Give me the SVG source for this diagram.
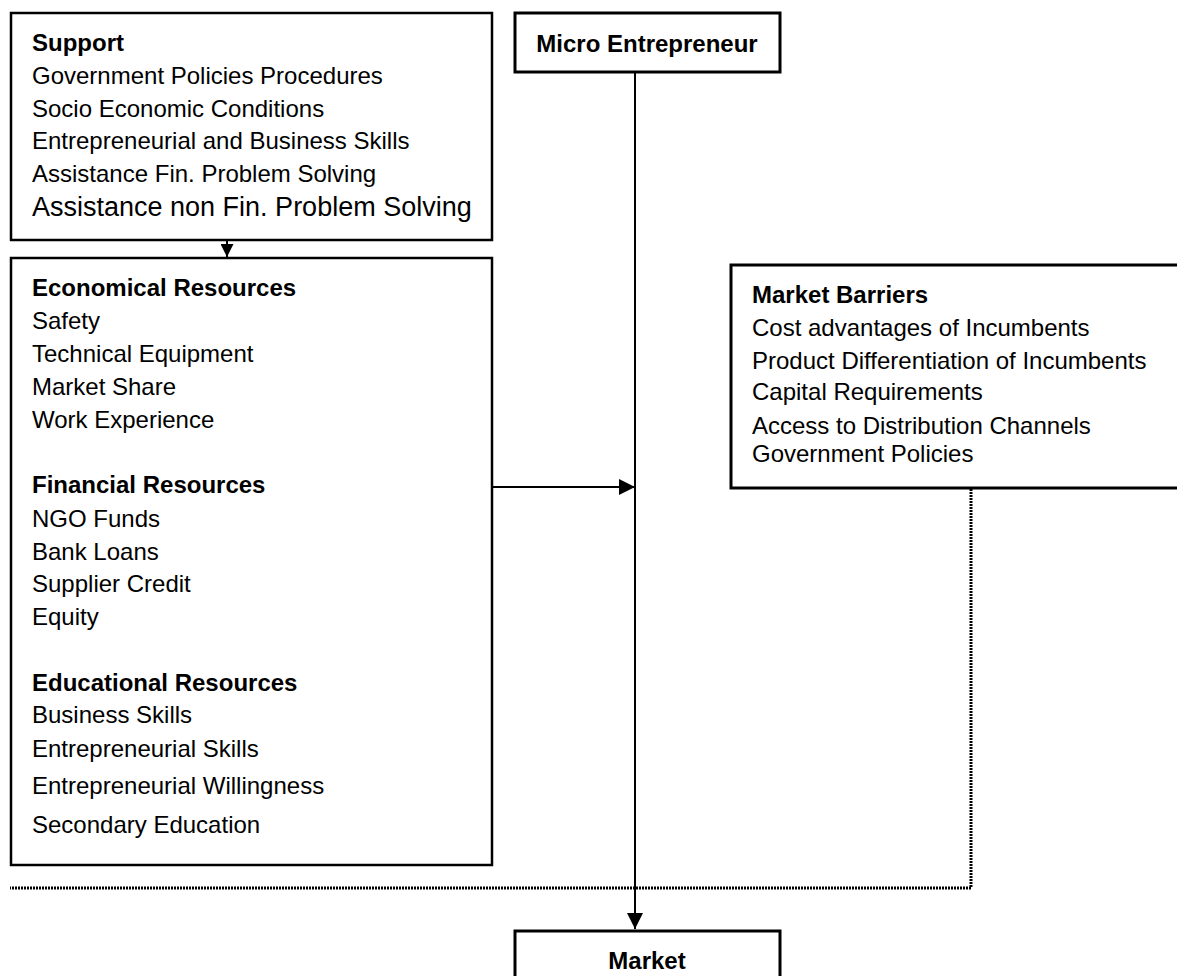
<svg xmlns="http://www.w3.org/2000/svg" width="1177" height="976" viewBox="0 0 1177 976">
<style>
  .box { fill: #fff; stroke: #000; stroke-width: 2.5; }
  .t { font-family: "Liberation Sans", Arial, sans-serif; font-size: 24px; fill: #000; }
  .b { font-weight: bold; }
  .con { fill: none; stroke: #000; stroke-width: 2; }
  .dot { fill: none; stroke: #000; stroke-width: 3; stroke-dasharray: 2 1; }
</style>
<defs>
  <marker id="ah" markerUnits="userSpaceOnUse" markerWidth="16" markerHeight="16" refX="16" refY="8" orient="auto">
    <path d="M0,0 L16,8 L0,16 z" fill="#000"/>
  </marker>
  <marker id="ahs" markerUnits="userSpaceOnUse" markerWidth="13" markerHeight="13" refX="13" refY="6.5" orient="auto">
    <path d="M0,0 L13,6.5 L0,13 z" fill="#000"/>
  </marker>
</defs>
<rect width="1177" height="976" fill="#fff"/>

<g id="connectors">
  <line class="con" x1="635" y1="72" x2="635" y2="929" marker-end="url(#ah)"/>
  <line class="con" x1="493" y1="487" x2="635" y2="487" marker-end="url(#ah)"/>
  <line class="con" x1="227" y1="241" x2="227" y2="257" marker-end="url(#ahs)"/>
  <polyline class="dot" points="971,483 971,888 10,888"/>
</g>

<g id="support">
  <rect class="box" x="11" y="13" width="481" height="227"/>
  <text class="t b" x="32" y="51">Support</text>
  <text class="t" x="32" y="84">Government Policies Procedures</text>
  <text class="t" x="32" y="117">Socio Economic Conditions</text>
  <text class="t" x="32" y="149">Entrepreneurial and Business Skills</text>
  <text class="t" x="32" y="182">Assistance Fin. Problem Solving</text>
  <text class="t" x="32" y="216" style="font-size:27px">Assistance non Fin. Problem Solving</text>
</g>

<g id="resources">
  <rect class="box" x="11" y="258" width="481" height="607"/>
  <text class="t b" x="32" y="296">Economical Resources</text>
  <text class="t" x="32" y="329">Safety</text>
  <text class="t" x="32" y="362">Technical Equipment</text>
  <text class="t" x="32" y="395">Market Share</text>
  <text class="t" x="32" y="428">Work Experience</text>
  <text class="t b" x="32" y="493">Financial Resources</text>
  <text class="t" x="32" y="527">NGO Funds</text>
  <text class="t" x="32" y="560">Bank Loans</text>
  <text class="t" x="32" y="592">Supplier Credit</text>
  <text class="t" x="32" y="625">Equity</text>
  <text class="t b" x="32" y="691">Educational Resources</text>
  <text class="t" x="32" y="723">Business Skills</text>
  <text class="t" x="32" y="757">Entrepreneurial Skills</text>
  <text class="t" x="32" y="794">Entrepreneurial Willingness</text>
  <text class="t" x="32" y="833">Secondary Education</text>
</g>

<g id="micro-entrepreneur">
  <rect class="box" x="515" y="13" width="265" height="59" style="stroke-width:3"/>
  <text class="t b" x="647" y="52" text-anchor="middle">Micro Entrepreneur</text>
</g>

<g id="market-barriers">
  <rect class="box" x="731" y="265" width="460" height="223" style="stroke-width:3"/>
  <text class="t b" x="752" y="303">Market Barriers</text>
  <text class="t" x="752" y="336">Cost advantages of Incumbents</text>
  <text class="t" x="752" y="369">Product Differentiation of Incumbents</text>
  <text class="t" x="752" y="400">Capital Requirements</text>
  <text class="t" x="752" y="434">Access to Distribution Channels</text>
  <text class="t" x="752" y="462">Government Policies</text>
</g>

<g id="market">
  <rect class="box" x="515" y="931" width="265" height="60" style="stroke-width:3"/>
  <text class="t b" x="647" y="969" text-anchor="middle">Market</text>
</g>
</svg>
